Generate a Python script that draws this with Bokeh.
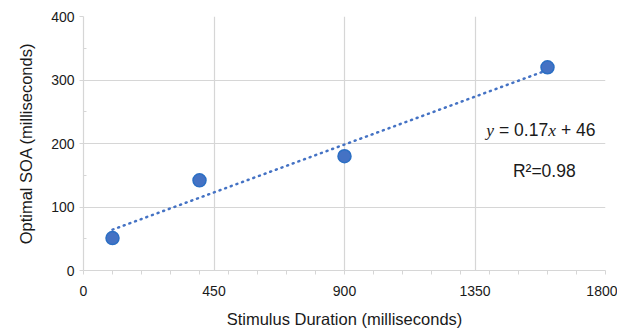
import numpy as np
from bokeh.plotting import figure
from bokeh.models import Range1d, FixedTicker, Label, ColumnDataSource
from bokeh.embed import file_html
from bokeh.resources import INLINE

# Data
stimulus_duration = [100, 400, 900, 1600]
optimal_soa = [51, 142, 180, 320]
x_ticks = [0, 450, 900, 1350, 1800]
x_minor = list(range(0, 1801, 100))
y_ticks = [0, 100, 200, 300, 400]
y_minor = [50, 150, 250, 350]
eq_text = ["y", "= 0.17", "x", "+ 46"]
r2_text = "R\u00b2=0.98"

FONT = "Liberation Sans"
SERIF = "Liberation Serif"
BLUE = "#4472C4"
GRID = "#d6d6d6"

p = figure(width=617, height=330, output_backend="svg", toolbar_location=None,
           x_range=Range1d(0, 1800), y_range=Range1d(0, 400),
           min_border_left=83, min_border_right=12, min_border_top=16,
           min_border_bottom=57)
p.outline_line_color = None
p.background_fill_color = "white"
p.border_fill_color = "white"

# axes
p.xaxis.ticker = FixedTicker(ticks=x_ticks, minor_ticks=x_minor)
p.yaxis.ticker = FixedTicker(ticks=y_ticks, minor_ticks=y_minor)
for ax in (p.xaxis[0], p.yaxis[0]):
    ax.axis_line_color = GRID
    ax.axis_line_width = 1.2
    ax.major_tick_line_color = GRID
    ax.minor_tick_line_color = GRID
    ax.major_label_text_font = FONT
    ax.major_label_text_font_size = "14px"
    ax.major_label_text_color = "#1a1a1a"
    ax.axis_label_text_font = FONT
    ax.axis_label_text_font_size = "16.5px"
    ax.axis_label_text_font_style = "normal"
    ax.axis_label_text_color = "#1a1a1a"

p.xaxis.major_tick_out = 0
p.xaxis.major_tick_in = 0
p.xaxis.minor_tick_out = 4
p.xaxis.minor_tick_in = 0
p.xaxis.major_label_standoff = 11
p.xaxis.axis_label = "Stimulus Duration (milliseconds)"
p.xaxis.axis_label_standoff = 11

p.yaxis.major_tick_out = 4
p.yaxis.major_tick_in = 0
p.yaxis.minor_tick_out = 0
p.yaxis.minor_tick_in = 3
p.yaxis.major_label_standoff = 5
p.yaxis.axis_label = "Optimal SOA (milliseconds)"
p.yaxis.axis_label_standoff = 13

p.xgrid.grid_line_color = GRID
p.ygrid.grid_line_color = GRID
p.xgrid.grid_line_width = 1.2
p.ygrid.grid_line_width = 1.2

# trend line from least squares fit of the data
slope, intercept = np.polyfit(stimulus_duration, optimal_soa, 1)
tx = [min(stimulus_duration), max(stimulus_duration)]
ty = [slope * v + intercept for v in tx]
p.line(tx, ty, line_color=BLUE, line_width=2.5, line_dash="1 5", line_cap="round")

src = ColumnDataSource(dict(x=stimulus_duration, y=optimal_soa))
p.scatter("x", "y", source=src, size=13, fill_color=BLUE, line_color="#2b6fc4",
          line_width=1.5)

# equation annotation
eq_x, eq_y = 1389, 222
offsets = [0, 12.7, 62, 74.7]
fonts = [SERIF, FONT, SERIF, FONT]
styles = ["italic", "normal", "italic", "normal"]
for t, off, f, st in zip(eq_text, offsets, fonts, styles):
    p.add_layout(Label(x=eq_x, y=eq_y, x_offset=off, text=t, text_font=f,
                       text_font_style=st, text_font_size="17.5px",
                       text_color="#1a1a1a", text_baseline="alphabetic",
                       text_align="left"))

p.add_layout(Label(x=1589, y=156, text=r2_text, text_font=FONT,
                   text_font_size="17.5px", text_color="#1a1a1a",
                   text_baseline="alphabetic", text_align="center"))

open("out.html", "w").write(file_html(p, INLINE))
